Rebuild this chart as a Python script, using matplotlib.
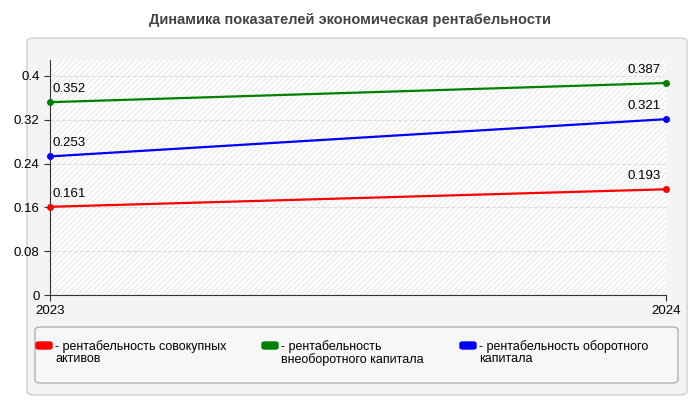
import matplotlib
matplotlib.use("Agg")
import matplotlib.pyplot as plt
from matplotlib.patches import FancyBboxPatch, Rectangle

plt.rcParams['font.family'] = ['Liberation Sans', 'DejaVu Sans']

years = ["2023", "2024"]
series_names = ["- рентабельность совокупных\nактивов",
                "- рентабельность\nвнеоборотного капитала",
                "- рентабельность оборотного\nкапитала"]
v_assets = [0.161, 0.193]
v_nonc = [0.352, 0.387]
v_curr = [0.253, 0.321]
colors = ["#ff0000", "#008000", "#0000ff"]
yticks = [0, 0.08, 0.16, 0.24, 0.32, 0.4]

fig = plt.figure(figsize=(7, 4), dpi=100)
fig.patch.set_facecolor("white")
fig.patches.append(FancyBboxPatch((27/700, 5/400), 660/700, 357/400,
    boxstyle="round,pad=0,rounding_size=0.01", transform=fig.transFigure,
    facecolor="#f4f4f4", edgecolor="#d0d0d0", lw=1, zorder=0))
fig.text(0.5, 1-20/400, "Динамика показателей экономическая рентабельности",
         ha="center", va="center", fontsize=10.5, fontweight="bold", color="#444444")

ax = fig.add_axes([50/700, 1-295/400, 616/700, 235/400])
ax.set_zorder(10)
ax.set_facecolor("white")
ax.add_patch(Rectangle((0, 0), 1, 1, transform=ax.transAxes, facecolor="none",
                       hatch="//////", edgecolor="#ececec", lw=0, zorder=0))
x = [0, 1]
for vals, c in zip([v_assets, v_nonc, v_curr], colors):
    ax.plot(x, vals, color=c, lw=1.6, zorder=3)
    ax.plot(x, vals, 'o', color=c, ms=4, zorder=4, clip_on=False)
    ax.annotate(f"{vals[0]:.3f}", (0, vals[0]), xytext=(2, 5), textcoords="offset points",
                fontsize=9.5, ha="left", va="bottom")
    ax.annotate(f"{vals[1]:.3f}", (1, vals[1]), xytext=(-4, 5), textcoords="offset points",
                fontsize=9.5, ha="right", va="bottom")
ax.set_xlim(0, 1)
ax.set_ylim(0, 0.429)
ax.set_xticks(x)
ax.set_xticklabels(years, fontsize=9.5)
ax.set_yticks(yticks)
ax.set_yticklabels(["0", "0.08", "0.16", "0.24", "0.32", "0.4"], fontsize=9.5)
ax.grid(axis="y", color="#dddddd", ls="--", lw=0.8)
for s in ["top", "right"]:
    ax.spines[s].set_visible(False)
ax.spines["left"].set_color("#333333")
ax.spines["bottom"].set_color("#333333")
ax.tick_params(length=4, color="#333333")

# legend box
fig.patches.append(FancyBboxPatch((35/700, 1-383/400), 643/700, 56/400,
    boxstyle="round,pad=0,rounding_size=0.008", transform=fig.transFigure,
    facecolor="#f7f7f7", edgecolor="#b0b0b0", lw=1, zorder=1))
lx = [36, 262, 460]
for px, c, name in zip(lx, colors, series_names):
    fig.patches.append(FancyBboxPatch((px/700, 1-349/400), 16/700, 7/400,
        boxstyle="round,pad=0,rounding_size=0.004", transform=fig.transFigure,
        facecolor=c, edgecolor=c, zorder=2))
    fig.text((px+19)/700, 1-340/400, name, fontsize=9, va="top", ha="left",
             linespacing=1.0, zorder=3)

fig.savefig("out.png", dpi=100)
